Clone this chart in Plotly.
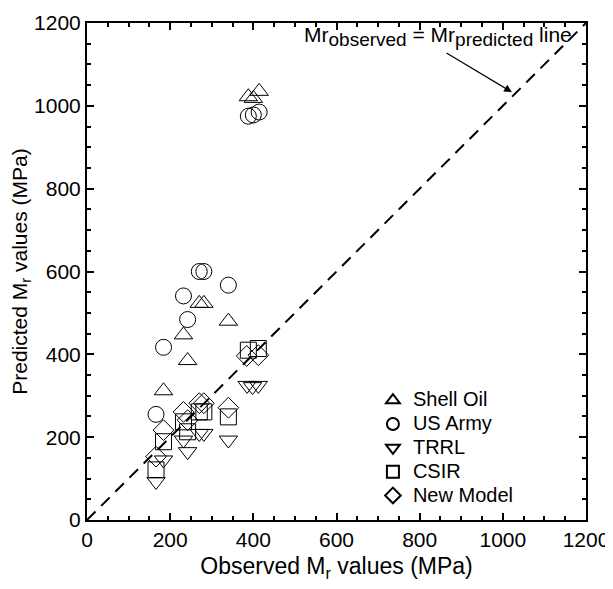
import plotly.graph_objects as go

# Observed vs predicted resilient modulus (MPa)
shell_x = [184, 232, 242, 270, 281, 340, 388, 400, 414]
shell_y = [312, 447, 385, 523, 523, 480, 1022, 1018, 1035]

army_x = [166, 184, 232, 242, 270, 281, 340, 388, 400, 414]
army_y = [255, 417, 541, 484, 600, 600, 567, 975, 978, 985]

trrl_x = [166, 184, 232, 242, 270, 281, 340, 385, 398, 412]
trrl_y = [93, 145, 193, 165, 209, 209, 193, 325, 322, 325]

csir_x = [166, 184, 232, 242, 270, 281, 340, 388, 412]
csir_y = [121, 189, 237, 213, 261, 261, 249, 410, 414]

new_x = [166, 184, 232, 242, 270, 281, 340, 384, 412]
new_y = [153, 217, 261, 241, 282, 282, 271, 396, 398]

line_xy = [0, 1200]

series = [
    ("Shell Oil", shell_x, shell_y, "triangle-up-open"),
    ("US Army", army_x, army_y, "circle-open"),
    ("TRRL", trrl_x, trrl_y, "triangle-down-open"),
    ("CSIR", csir_x, csir_y, "square-open"),
    ("New Model", new_x, new_y, "diamond-open"),
]

fig = go.Figure()
fig.add_trace(go.Scatter(x=line_xy, y=line_xy, mode="lines",
                         line=dict(color="black", width=2, dash="12px,8px"),
                         showlegend=False, hoverinfo="skip"))
for name, xs, ys, sym in series:
    fig.add_trace(go.Scatter(x=xs, y=ys, mode="markers",
                             name='<span style="font-size:20px">' + name + '</span>',
                             marker=dict(symbol=sym, size=16, color="black",
                                         line=dict(color="black", width=1))))

fig.add_annotation(x=1022, y=1033, ax=861, ay=1130, xref="x", yref="y",
                   axref="x", ayref="y",
                   text="", showarrow=True, arrowhead=2, arrowsize=1.3,
                   arrowwidth=1.2, arrowcolor="black")
sub = '<sub><span style="font-size:19px">%s</span></sub>'
fig.add_annotation(x=518, y=1167, xref="x", yref="y", xanchor="left",
                   yanchor="middle", showarrow=False,
                   text="Mr" + sub % "observed" + " = Mr" + sub % "predicted" + " line",
                   font=dict(size=21, color="black"))

axis_common = dict(range=[0, 1200], dtick=200, ticks="inside", ticklen=7,
                   tickwidth=2, tickcolor="black", showline=True,
                   linewidth=2, linecolor="black", mirror="allticks",
                   showgrid=False, zeroline=False,
                   tickfont=dict(size=21, color="black"),
                   minor=dict(dtick=50, ticks="inside", ticklen=4,
                              tickwidth=1.5, tickcolor="black"))

# page body adds an 8px offset, so the figure is sized to the visible area
fig.update_layout(
    width=605, height=581,
    margin=dict(l=79, r=27, t=15, b=69, autoexpand=False),
    plot_bgcolor="white", paper_bgcolor="white",
    font=dict(family="Liberation Sans, Arial, sans-serif", color="black"),
    xaxis=dict(axis_common, title=dict(text="Observed M<sub>r</sub> values (MPa)",
                                       font=dict(size=23), standoff=8)),
    yaxis=dict(axis_common, title=dict(text="Predicted M<sub>r</sub> values (MPa)",
                                       font=dict(size=21), standoff=2)),
    legend=dict(x=0.573, y=0.275, xanchor="left", yanchor="top",
                font=dict(size=16), bgcolor="rgba(0,0,0,0)",
                tracegroupgap=0, itemsizing="constant"),
    showlegend=True,
)

fig.write_html("out.html")
